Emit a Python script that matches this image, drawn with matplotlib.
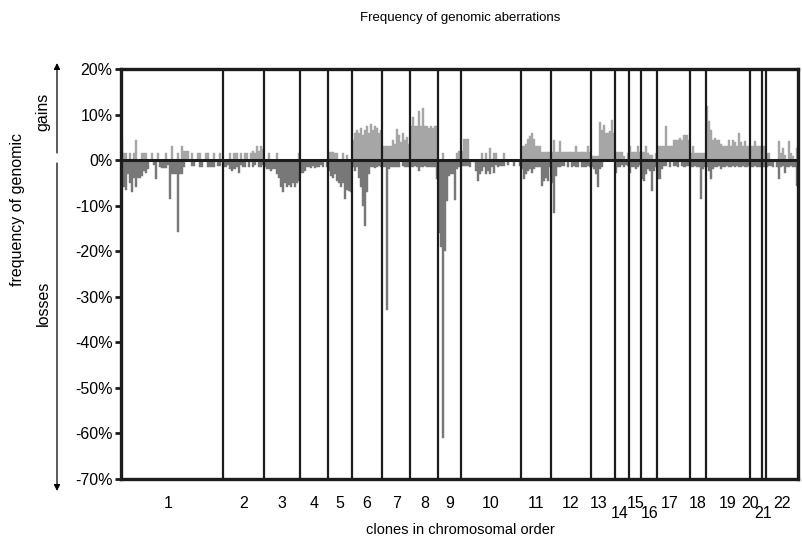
import matplotlib
matplotlib.use("Agg")
import matplotlib.pyplot as plt
import matplotlib.transforms as mtransforms
import numpy as np

plt.rcParams['font.family'] = ['Liberation Sans', 'DejaVu Sans']

# chromosome names; labels in lower_labels are printed one row lower
chrom_names = [str(i) for i in range(1, 23)]
lower_labels = ['14', '16', '21']
# small nudges of some chromosome labels (in clones) as in the original
label_shift = {'1': -2, '13': -2, '14': -1.5, '17': -2, '20': -3, '21': -0.5}

# frequency of gains per clone (%), one list per chromosome
gains_by_chrom = [
    [4.5, 1.5, 1.5, 0, 1.5, 0, 1.5, 4.5, 0, 0, 1.5, 1.5, 1.5, 0, 0, 1.5, 0, 0, 1.5, 0, 0, 0, 1.5, 0, 0,
     3.0, 0, 0, 1.5, 0, 3.0, 2.0, 2.0, 2.0, 0, 1.5, 0, 0, 1.5, 1.5, 0, 0, 1.5, 1.5, 0, 0, 1.5, 0, 0, 1.5, 0],
    [0, 0, 0, 1.5, 0, 1.5, 1.5, 0, 1.5, 0, 1.5, 1.5, 0, 1.5, 2.0, 1.5, 3.0, 2.0, 3.0, 2.5],
    [0, 0, 1.5, 0, 0, 0, 1.5, 0, 0, 0, 0, 0, 0, 0, 0, 0, 0, 1.5],
    [0, 0, 0, 0, 0, 0, 0, 0, 0, 0, 0, 0, 0, 0],
    [1.7, 1.7, 1.7, 1.5, 1.5, 0, 0, 1.5, 0, 1.2, 0, 0],
    [4.5, 6.0, 6.5, 6.0, 7.0, 5.5, 6.5, 7.5, 6.0, 8.0, 6.5, 7.5, 7.0, 6.0, 6.5],
    [3.0, 3.0, 3.0, 3.0, 3.2, 4.5, 3.5, 6.9, 5.5, 4.0, 6.0, 4.5, 5.0, 3.5],
    [7.5, 9.5, 7.5, 7.5, 10.8, 7.5, 11.5, 7.5, 7.5, 7.0, 7.5, 7.0, 7.5, 7.5],
    [0, 0, 1.5, 0, 0, 0, 0, 0, 0, 1.5, 2.0],
    [2.0, 4.7, 4.7, 4.7, 0, 0, 0, 0, 0, 0, 1.5, 0, 1.5, 0, 2.7, 0, 1.5, 1.5, 0, 0,
     0, 1.5, 0, 0, 0, 0, 0, 0, 0, 0],
    [3.0, 3.0, 3.5, 4.7, 5.2, 6.0, 4.7, 3.0, 3.0, 3.0, 1.8, 1.8, 1.8, 1.8, 1.8],
    [1.8, 4.5, 1.8, 1.8, 4.2, 1.8, 1.8, 1.8, 1.8, 1.8, 1.8, 1.8, 3.0, 1.8, 1.8, 1.8, 1.8, 1.8, 3.0, 1.8],
    [1.0, 1.0, 1.0, 1.0, 8.3, 6.5, 7.8, 6.0, 6.0, 6.3, 8.7, 6.0],
    [1.8, 1.8, 1.8, 1.8, 1.0, 0, 1.5],
    [3.0, 1.8, 1.8, 1.8, 3.0, 1.8],
    [1.8, 1.8, 3.0, 1.5, 1.2, 1.2, 0, 1.5],
    [3.0, 3.0, 3.0, 3.0, 7.5, 3.0, 3.0, 3.0, 4.5, 4.5, 4.5, 4.8, 4.5, 5.6, 5.6, 4.5],
    [1.6, 3.0, 1.6, 1.6, 1.6, 1.6, 1.6, 1.6],
    [11.9, 8.5, 6.5, 4.5, 4.8, 4.5, 4.5, 3.5, 3.0, 3.0, 3.0, 4.5, 3.0, 4.5, 4.0, 3.0, 6.0, 4.0, 3.0, 4.2,
     3.0, 3.0],
    [3.0, 3.0, 4.2, 3.0, 3.0, 3.0],
    [3.0, 3.0],
    [1.5, 1.5, 0, 0, 0, 0, 4.2, 1.5, 2.7, 1.2, 0, 4.2, 1.5, 1.0, 0, 2.7],
]

# frequency of losses per clone (%), one list per chromosome
losses_by_chrom = [
    [5, 6, 6.5, 3, 5, 7, 4, 6, 4, 4, 3.5, 2.5, 2.8, 2, 0, 0, 1, 4.2, 0, 1.5, 1.7, 1.7, 1.7, 1, 8.6,
     3, 3, 3, 15.8, 3, 3, 1.5, 0, 0, 0, 1.2, 1.2, 0, 0, 1.5, 1.5, 0, 0, 1.5, 1.5, 1.5, 1.5, 0, 1.2, 1.2, 0],
    [1.5, 1.5, 1.0, 2.0, 2.5, 2.0, 1.5, 2.8, 1.0, 1.5, 1.5, 0, 1.5, 0, 1.5, 1.0, 0, 1.5, 1.5, 1.0],
    [1.5, 2, 2, 2.5, 2, 2, 3, 4, 6, 7, 5, 6, 5.5, 6, 5, 6, 5, 4.5],
    [2.8, 2.8, 2.5, 1.5, 1.5, 1.7, 1.2, 1.7, 1.5, 1.5, 1.0, 1.5, 0, 1.5],
    [2.5, 3.5, 4, 3, 4.5, 5, 6, 5, 8.5, 6.5, 6.8, 7],
    [1.5, 2.5, 1.5, 4, 6, 10, 14.5, 7, 3, 1.5, 1.5, 1.7, 1.5, 1.2, 1.5],
    [1.5, 1.5, 33, 2.0, 1.5, 1.5, 1.5, 1.5, 1.5, 0, 1.2, 1.5, 1.5, 1.5],
    [1.5, 1.5, 1.2, 1.5, 2.5, 1.5, 1.5, 1.2, 1.5, 1.5, 1.5, 1.5, 1.5, 4.2],
    [16, 19, 61, 20, 9, 3.5, 3, 3, 8.8, 2, 1.5],
    [1.3, 1.3, 1.3, 1.3, 1.5, 0, 0.5, 2.4, 4.6, 3, 2.5, 1.5, 3, 2.5, 3, 1.5, 2.8, 1.0, 1.5, 1.3,
     1.3, 1.3, 0, 1, 0, 0, 1.2, 0, 0, 1.2],
    [2.0, 4.2, 3.0, 2.5, 2.0, 2.8, 2.0, 1.5, 1.5, 1.5, 5.7, 4.6, 4.0, 4.6, 1.5],
    [5.0, 11.6, 3.5, 1.5, 1.5, 1.2, 1.2, 0, 1.5, 0, 1.5, 1.2, 1.5, 1.5, 0, 1.5, 1.5, 1.5, 1.2, 1.5],
    [1.5, 2.0, 3.0, 6.0, 2.0, 1.5, 0, 0, 0, 0, 0, 0],
    [2.8, 1.5, 1.5, 1.0, 1.5, 1.0, 1.2],
    [2.8, 1.5, 1.5, 2.0, 1.5, 1.0],
    [4.2, 4.5, 3.0, 2.0, 2.5, 6.8, 2.5, 1.5],
    [4.2, 4.2, 2.0, 1.2, 1.2, 0, 1.5, 0, 1.2, 1.2, 1.5, 0, 1.2, 1.5, 1.2, 1.2],
    [1.5, 1.5, 1.2, 1.5, 1.5, 8.5, 2.0, 1.5],
    [1.5, 2.5, 4.2, 2.0, 1.5, 1.5, 1.2, 2.0, 1.5, 1.5, 1.2, 1.5, 1.5, 1.2, 1.5, 1.2, 1.5, 1.5, 1.2, 1.5,
     1.5, 1.2],
    [1.5, 1.5, 1.2, 1.5, 1.5, 1.5],
    [1.5, 1.5],
    [1.5, 1.2, 1.2, 1.5, 0, 1.5, 4.2, 1.5, 1.2, 2.8, 1.5, 1.5, 1.2, 1.5, 1.5, 5.7],
]

yticks = [20, 10, 0, -10, -20, -30, -40, -50, -60, -70]

gains = np.concatenate([np.array(g, dtype=float) for g in gains_by_chrom])
losses = np.concatenate([np.array(l, dtype=float) for l in losses_by_chrom])
counts = [len(g) for g in gains_by_chrom]
bounds = np.cumsum([0] + counts)
x = np.arange(len(gains))

W, H = 803, 540
fig = plt.figure(figsize=(W / 100, H / 100), dpi=100)
ax = fig.add_axes([121 / W, 1 - 479 / H, 677 / W, 410 / H])

gain_col = '#a6a6a6'
loss_col = '#787878'
ax.bar(x, gains, width=1.0, align='edge', color=gain_col, edgecolor=gain_col, linewidth=0.3, zorder=2)
ax.bar(x, -losses, width=1.0, align='edge', color=loss_col, edgecolor=loss_col, linewidth=0.3, zorder=2)

# chromosome borders and zero line
for b in bounds[1:-1]:
    ax.axvline(b, color='#1c1c1c', lw=1.6, zorder=3)
ax.axhline(0, color='#1c1c1c', lw=2.2, zorder=4)

ax.set_xlim(0, bounds[-1])
ax.set_ylim(-70, 20)
ax.set_yticks(yticks)
ax.set_yticklabels(['%d%%' % v for v in yticks], fontsize=11.5)
ax.set_xticks([])
ax.tick_params(axis='y', direction='out', length=4, width=2, pad=2, color='#1c1c1c')
for s in ax.spines.values():
    s.set_linewidth(2.4)
    s.set_color('#1c1c1c')
    s.set_zorder(5)

# chromosome numbers under the axis
trans = mtransforms.blended_transform_factory(ax.transData, fig.transFigure)
for name, a, b in zip(chrom_names, bounds[:-1], bounds[1:]):
    ypix = 513 if name in lower_labels else 503
    xc = (a + b) / 2 + label_shift.get(name, 0)
    ax.text(xc, 1 - ypix / H, name, transform=trans, ha='center', va='center', fontsize=11.5)

fig.text(460 / W, 1 - 530 / H, 'clones in chromosomal order', ha='center', va='center', fontsize=10.5)
fig.text(460 / W, 1 - 18 / H, 'Frequency of genomic aberrations', ha='center', va='center', fontsize=9.5)
fig.text(18 / W, 1 - 210 / H, 'frequency of genomic', rotation=90, ha='center', va='center', fontsize=11.5)
fig.text(43 / W, 1 - 112 / H, 'gains', rotation=90, ha='center', va='center', fontsize=11.5)
fig.text(43 / W, 1 - 303 / H, 'losses', rotation=90, ha='center', va='center', fontsize=11.5)

# gains / losses arrows
arrow = dict(arrowstyle='-|>', color='black', lw=0.9, mutation_scale=9, shrinkA=0, shrinkB=0)
ax.annotate('', xy=(57, H - 63), xytext=(57, H - 153), xycoords='figure pixels',
            textcoords='figure pixels', arrowprops=arrow, annotation_clip=False)
ax.annotate('', xy=(57, H - 491), xytext=(57, H - 163), xycoords='figure pixels',
            textcoords='figure pixels', arrowprops=arrow, annotation_clip=False)

fig.savefig('out.png', dpi=100)
